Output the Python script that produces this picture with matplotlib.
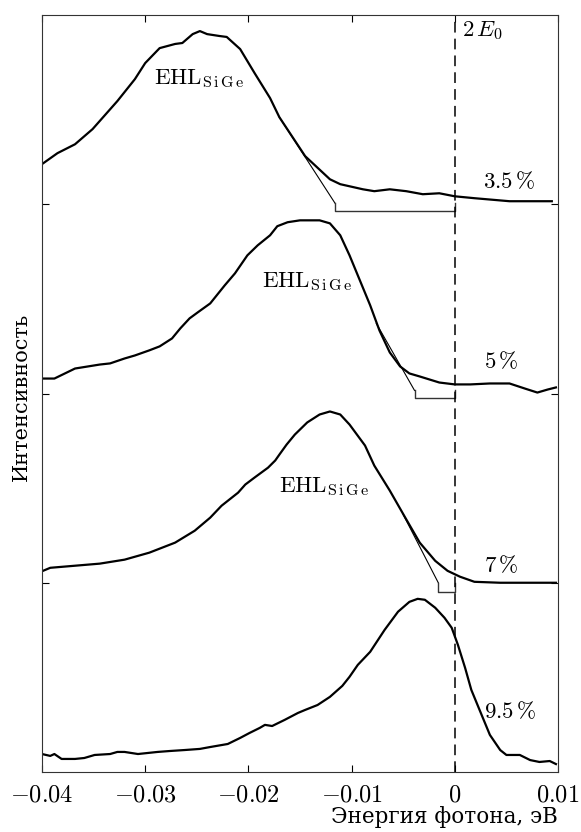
import matplotlib
matplotlib.use("Agg")
import matplotlib.pyplot as plt
import numpy as np

plt.rcParams["mathtext.fontset"] = "cm"
plt.rcParams["font.family"] = ["DejaVu Serif"]

# ── spectra: photon energy relative to 2E0 (meV), normalised intensity ──
e_35 = [-40.0, -38.5, -36.8, -35.1, -32.7, -31.0, -30.0, -28.6, -27.1, -26.4,
        -25.4, -24.7, -24.0, -22.8, -22.1, -20.8, -19.4, -17.9, -17.0, -14.5,
        -12.1, -11.1, -8.9, -7.8, -6.3, -4.7, -3.1, -1.5, 0.0, 1.9, 5.3, 9.4]
i_35 = [0.212, 0.270, 0.317, 0.397, 0.545, 0.661, 0.746, 0.825, 0.847, 0.852,
        0.899, 0.915, 0.899, 0.889, 0.884, 0.820, 0.693, 0.561, 0.460, 0.254,
        0.132, 0.106, 0.079, 0.069, 0.079, 0.069, 0.053, 0.058, 0.042, 0.032,
        0.016, 0.016]

e_5 = [-39.9, -38.8, -36.8, -34.4, -33.4, -32.0, -31.0, -29.6, -28.6, -27.4,
       -26.6, -25.7, -24.9, -23.7, -22.3, -21.3, -20.1, -19.1, -17.9, -17.2,
       -16.2, -15.0, -14.1, -13.1, -12.1, -11.1, -10.2, -9.2, -8.2, -7.3,
       -6.3, -5.3, -4.4, -3.4, -1.5, 0.0, 1.5, 3.4, 5.3, 6.8, 8.0, 9.0, 9.8]
i_5 = [0.079, 0.079, 0.132, 0.153, 0.159, 0.185, 0.201, 0.228, 0.249, 0.291,
       0.344, 0.397, 0.429, 0.476, 0.571, 0.635, 0.730, 0.783, 0.836, 0.884,
       0.905, 0.915, 0.915, 0.915, 0.899, 0.836, 0.730, 0.598, 0.466, 0.333,
       0.217, 0.143, 0.106, 0.090, 0.058, 0.048, 0.048, 0.053, 0.053, 0.026,
       0.005, 0.021, 0.032]

e_7 = [-39.9, -39.2, -36.8, -34.4, -32.0, -29.6, -27.1, -25.2, -23.7, -22.6,
       -21.0, -20.3, -19.4, -18.1, -17.4, -17.0, -16.3, -15.5, -14.3, -13.1,
       -12.1, -11.1, -10.2, -8.7, -7.8, -6.3, -4.8, -3.4, -1.9, -0.7, 0.5,
       1.9, 4.4, 9.8]
i_7 = [0.063, 0.079, 0.090, 0.101, 0.122, 0.159, 0.212, 0.275, 0.344, 0.407,
       0.476, 0.519, 0.556, 0.608, 0.646, 0.677, 0.730, 0.783, 0.847, 0.889,
       0.905, 0.889, 0.836, 0.725, 0.619, 0.487, 0.344, 0.212, 0.116, 0.063,
       0.032, 0.005, 0.0, 0.0]

e_95 = [-40.0, -39.2, -38.8, -38.1, -36.8, -35.9, -34.9, -33.4, -32.7, -32.0,
        -30.7, -28.8, -27.6, -26.2, -24.7, -23.7, -22.0, -20.8, -19.9, -18.9,
        -18.4, -17.7, -16.5, -15.2, -14.5, -13.3, -12.1, -10.9, -10.2, -9.4,
        -8.2, -6.8, -5.5, -4.4, -3.6, -2.9, -1.9, -1.0, -0.3, 0.3, 1.0, 1.6,
        2.4, 3.4, 4.4, 5.0, 6.3, 7.3, 8.2, 9.2, 9.8]
i_95 = [0.095, 0.085, 0.095, 0.069, 0.069, 0.074, 0.090, 0.095, 0.106, 0.106,
        0.095, 0.106, 0.111, 0.116, 0.122, 0.132, 0.148, 0.180, 0.206, 0.233,
        0.249, 0.243, 0.275, 0.312, 0.328, 0.354, 0.397, 0.455, 0.503, 0.566,
        0.635, 0.751, 0.847, 0.899, 0.915, 0.910, 0.868, 0.815, 0.762, 0.672,
        0.550, 0.434, 0.328, 0.196, 0.116, 0.090, 0.090, 0.063, 0.053, 0.058,
        0.042]

labels = ["3.5\\,\\%", "5\\,\\%", "7\\,\\%", "9.5\\,\\%"]
offsets = [3, 2, 1, 0]

# EHL high-energy edge: tangent (start, end) and bracket to 2E0
tangents = [((-17.0, 0.460), (-11.6, 0.005)),
            ((-7.6, 0.370), (-3.9, 0.016)),
            ((-5.0, 0.360), (-1.6, 0.000)),
            None]
bracket_y = [-0.037, -0.026, -0.048]

# text positions (meV, axis units)
ehl_pos = [(-29.1, 3.635), (-18.7, 2.563), (-17.0, 1.480)]
pct_pos = [(2.7, 3.086), (2.8, 2.135), (2.8, 1.057), (2.8, 0.285)]

fig = plt.figure(figsize=(5.81, 8.32), dpi=100)
ax = fig.add_axes([42 / 581, 60 / 832, 516 / 581, 757 / 832])

spectra = [(e_35, i_35), (e_5, i_5), (e_7, i_7), (e_95, i_95)]
for (e, inten), off in zip(spectra, offsets):
    ax.plot(np.array(e) / 1000, np.array(inten) + off, color="black",
            linewidth=1.6, solid_joinstyle="round")

for k, tg in enumerate(tangents):
    if tg is None:
        continue
    (x0, y0), (x1, y1) = tg
    off = offsets[k]
    ax.plot([x0 / 1000, x1 / 1000], [y0 + off, y1 + off],
            color="black", linewidth=0.8)
    by = bracket_y[k] + off
    top = y1 + off
    ax.plot([x1 / 1000, x1 / 1000, 0, 0], [top, by, by, top],
            color="#333333", linewidth=1.0)

ax.axvline(0, color="black", linewidth=1.1, dashes=(7, 4))

for (x, y) in ehl_pos:
    ax.text(x / 1000, y, r"$\mathrm{EHL}_{\mathrm{S\,i\,G\,e}}$", fontsize=16.5,
            ha="left", va="baseline")
for (x, y), lab in zip(pct_pos, labels):
    ax.text(x / 1000, y, "$" + lab + "$", fontsize=16.5, ha="left",
            va="baseline")
ax.text(0.7 / 1000, 3.92, r"$2\,E_0$", fontsize=16.5, ha="left", va="center")

ax.set_xlim(-0.04, 0.01)
ax.set_ylim(0, 4)
xt = [-0.04, -0.03, -0.02, -0.01, 0, 0.01]
ax.set_xticks(xt)
ax.set_xticklabels(["$%g$" % v for v in xt], fontsize=17.5)
ax.set_yticks([1, 2, 3])
ax.set_yticklabels([])
ax.tick_params(direction="in", length=5, width=0.8, top=True, right=True,
               pad=8)
for spine in ax.spines.values():
    spine.set_linewidth(0.8)
    spine.set_color("#333333")

ax.set_ylabel("Интенсивность", fontsize=15)
ax.yaxis.set_label_coords(-0.022, 0.495)
ax.set_xlabel("Энергия фотона, эВ", fontsize=15.5, loc="right", labelpad=0)

fig.savefig("out.png", dpi=100)
